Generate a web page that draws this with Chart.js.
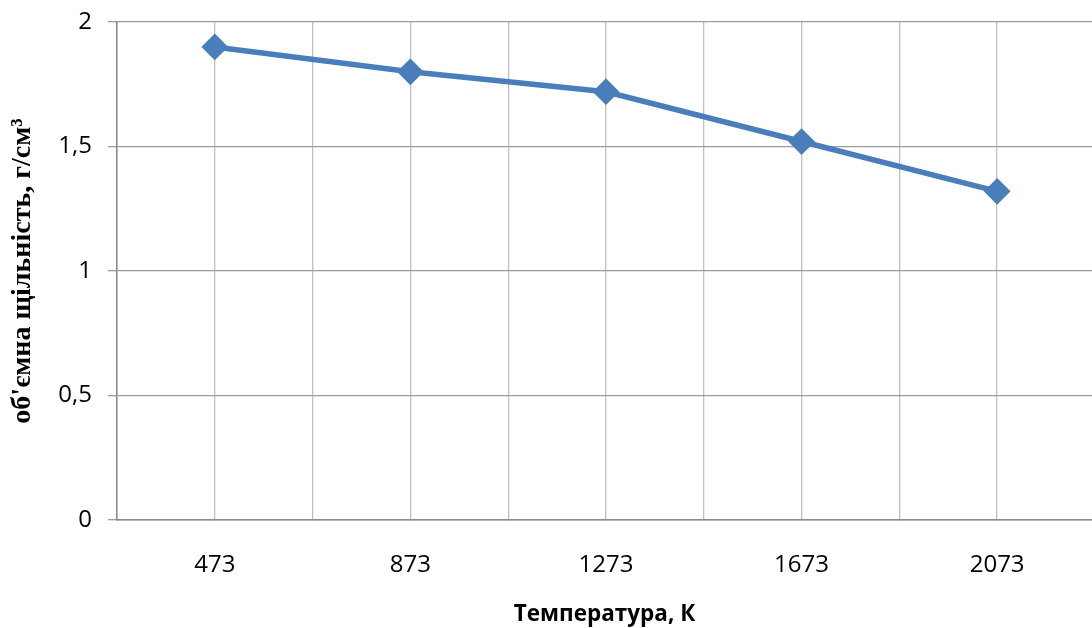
<!DOCTYPE html>
<html>
<head>
<meta charset="utf-8">
<script src="https://cdn.jsdelivr.net/npm/chart.js@4"></script>
<style>
  html, body { margin: 0; padding: 0; background: #fff; }
  #wrap { width: 1092px; height: 628px; }
</style>
</head>
<body>
<div id="wrap"><canvas id="lineChart"></canvas></div>
<script>
// температура, К
var categories = ['473', '873', '1273', '1673', '2073'];
// об'ємна щільність, г/см3
var densityValues = [1.9, 1.8, 1.72, 1.52, 1.32];
var yTicks = [0, 0.5, 1, 1.5, 2];

var points = densityValues.map(function (v, i) {
    return { x: i, y: v };
});

var sansFont = "'Open Sans', 'Liberation Sans', sans-serif";

var ctx = document.getElementById('lineChart').getContext('2d');
var lineChart = new Chart(ctx, {
    type: 'line',
    data: {
        datasets: [{
            label: 'щільність',
            data: points,
            borderColor: '#4a7ebb',
            backgroundColor: '#4a7ebb',
            borderWidth: 5.5,
            pointStyle: 'rectRot',
            pointRadius: 9.5,
            pointHoverRadius: 9.5,
            tension: 0,
            fill: false
        }]
    },
    options: {
        responsive: true,
        maintainAspectRatio: false,
        animation: false,
        layout: {
            autoPadding: false,
            padding: { top: 22, right: 0, left: 0, bottom: 0 }
        },
        plugins: {
            legend: { display: false },
            tooltip: { enabled: false }
        },
        scales: {
            x: {
                type: 'linear',
                min: -0.5,
                // last cell is cut a few pixels short by the right edge
                max: categories.length - 0.515,
                afterBuildTicks: function (scale) {
                    // a line at every category centre and every inner boundary
                    var t = [];
                    for (var i = 0; i < categories.length * 2; i++) {
                        t.push({ value: -0.5 + i * 0.5 });
                    }
                    scale.ticks = t;
                },
                afterFit: function (scale) {
                    scale.height = 108;
                    scale.paddingLeft = 0;
                    scale.paddingRight = 0;
                },
                grid: {
                    color: '#c0c0c0',
                    lineWidth: 1.3,
                    tickLength: 0
                },
                border: { display: true, color: '#8a8a8a', width: 1.5 },
                ticks: {
                    autoSkip: false,
                    maxRotation: 0,
                    padding: 31,
                    color: '#000',
                    font: { family: sansFont, size: 24 },
                    callback: function (value) {
                        return Number.isInteger(value) ? categories[value] : '';
                    }
                },
                title: {
                    display: true,
                    text: 'Температура, К',
                    color: '#000',
                    font: { family: sansFont, size: 22.5, weight: 'bold' },
                    padding: { top: 0, bottom: 0 }
                }
            },
            y: {
                min: 0,
                max: 2,
                afterBuildTicks: function (scale) {
                    scale.ticks = yTicks.map(function (v) { return { value: v }; });
                },
                afterFit: function (scale) {
                    scale.width = 117;
                    scale.paddingTop = 0;
                    scale.paddingBottom = 0;
                },
                grid: {
                    color: '#9c9c9c',
                    lineWidth: 1.3,
                    tickLength: 9
                },
                border: { display: true, color: '#8a8a8a', width: 1.5 },
                ticks: {
                    padding: 16,
                    color: '#000',
                    font: { family: sansFont, size: 24 },
                    callback: function (value) {
                        return String(value).replace('.', ',');
                    }
                },
                title: {
                    display: true,
                    text: "об'ємна щільність, г/см³",
                    color: '#000',
                    font: { family: "'Liberation Serif', 'DejaVu Serif', serif", size: 28, weight: 'bold' },
                    padding: { top: 6, bottom: 0 }
                }
            }
        }
    }
});
</script>
</body>
</html>
